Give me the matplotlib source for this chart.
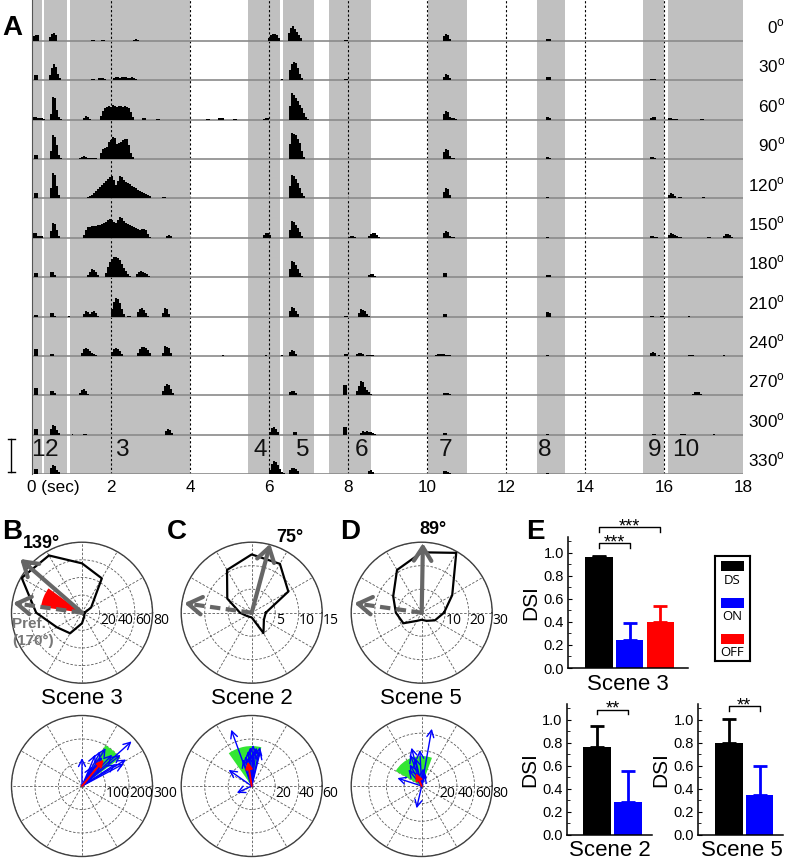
import numpy as np
import matplotlib
matplotlib.use("Agg")
import matplotlib.pyplot as plt
from matplotlib import font_manager
from matplotlib.patches import Rectangle
from matplotlib.transforms import blended_transform_factory

W, H = 787, 861
BIN = 0.05  # s, histogram bin

# ---------------- panel A data: PSTH segments per direction (start time, bin heights) ----------------
row_dirs = [0, 30, 60, 90, 120, 150, 180, 210, 240, 270, 300, 330]

psth_000 = [(0.03, [5, 6, 6]), (0.43, [4, 7, 8, 6]), (1.5, [1, 1]), (1.75, [1, 1]),
            (2.55, [1, 2, 1]), (5.98, [3, 6, 7, 7, 6, 3]), (6.48, [8, 13, 15, 12, 9, 6, 3]),
            (7.9, [1.5, 1.5]), (10.4, [5, 7, 6, 2]), (13.0, [2, 2, 2]), (17.5, [0.5, 0.5])]
psth_030 = [(0.05, [5, 5]), (0.43, [5, 12, 16, 13, 6, 2]), (1.5, [1, 1]), (1.68, [2, 2, 2, 1]),
            (2.05, [2, 3, 3, 2, 3, 3, 3, 2, 2, 3, 2, 1]), (6.3, [1]),
            (6.5, [10, 16, 18, 17, 12, 6, 2]), (7.9, [1.5, 1.5]), (10.4, [3, 6, 5, 2]),
            (13.0, [3.5, 3.5, 3]), (15.65, [1, 1, 1])]
psth_060 = [(0.03, [3, 3, 2, 2, 1.5, 1]), (0.45, [6, 23, 22, 10, 3, 1]), (1.3, [2, 4, 3, 1]),
            (1.72, [4, 9, 12, 13, 14, 13, 15, 14, 13, 14, 14, 13, 14, 13, 12, 8, 3]),
            (2.78, [2, 2]), (3.15, [1, 1]), (4.4, [1, 1]), (4.7, [1.5, 2, 1.5]), (5.1, [1, 1]),
            (5.85, [1, 2, 2]), (6.5, [14, 27, 25, 22, 19, 15, 12, 7, 3, 1]),
            (10.4, [6, 9, 8, 3, 1.5, 1.5, 1]), (13.0, [3, 3, 2]), (15.65, [2, 3, 3]),
            (16.1, [1.5, 1.5, 1, 1, 1]), (16.9, [0.5, 0.5])]
psth_090 = [(0.05, [4.5, 4.5]), (0.45, [8, 24, 22, 14, 4, 1]), (1.2, [1, 2, 3, 2, 1, 1, 1, 1, 1]),
            (1.72, [6, 10, 11, 12, 17, 19, 22, 21, 15, 16, 17, 19, 20, 20, 14, 6, 2]),
            (5.2, [0.5, 0.5]), (6.5, [15, 26, 25, 24, 20, 16, 8, 2]), (8.9, [0.5, 0.5]),
            (10.4, [7, 10, 9, 3, 1, 1]), (13.0, [2, 2, 1.5]), (15.65, [2, 2, 1]),
            (16.05, [0.5, 0.5]), (16.95, [0.5, 0.5])]
psth_120 = [(0.05, [5, 5]), (0.45, [10, 25, 23, 12, 3]), (0.9, [0.5]),
            (1.4, [1, 2, 3, 5, 7, 9, 11, 13, 15, 17, 19, 21, 22, 18, 13, 17, 22, 21, 18, 16,
                   15, 14, 12, 11, 10, 8, 7, 6, 5, 4, 3, 2]),
            (3.3, [1, 1]), (6.5, [12, 23, 22, 19, 15, 10, 5, 2]), (8.85, [0.5]),
            (10.4, [6, 10, 9, 3]), (11.5, [0.5, 0.5]), (13.0, [1, 1]), (16.1, [3, 5, 4, 2]),
            (16.35, [1, 1]), (16.95, [1, 1])]
psth_150 = [(0.03, [5, 5, 2, 1.5, 1.5]), (0.45, [7, 15, 14, 8, 2]),
            (1.3, [3, 8, 11, 11, 12, 12, 12, 13, 13, 14, 15, 16, 18, 19, 18, 16, 15, 18, 21, 20,
                   17, 15, 14, 13, 12, 11, 10, 9, 8, 9, 9, 8, 4, 1]),
            (3.4, [2, 2.5, 2]), (5.85, [3, 5, 5, 3]), (6.5, [8, 17, 16, 13, 10, 6, 2]),
            (8.0, [1, 2, 2, 1]), (8.5, [2, 4, 5, 5, 3, 1]), (10.4, [5, 7, 6, 2, 1, 1]),
            (13.0, [1, 1]), (15.65, [2, 2, 1, 1]), (16.1, [3, 4.5, 4, 3, 2, 1, 0.5]),
            (17.1, [1, 1]), (17.5, [2, 3.5, 4, 3, 1])]
psth_180 = [(0.05, [4, 4]), (0.45, [5, 5, 2]), (1.0, [0.5]), (1.2, [0.5]), (1.4, [2, 5, 8, 7, 5, 2]),
            (1.85, [4, 10, 15, 18, 20, 20, 19, 17, 13, 9, 6, 3, 1]),
            (2.63, [3, 5, 6, 5, 4, 3, 1]), (6.5, [8, 16, 15, 12, 8, 4, 1]), (8.5, [2, 3, 3, 1]),
            (10.4, [4.5, 4.5]), (13.0, [2, 2.5, 2]), (15.65, [0.5, 0.5, 0.5]), (17.1, [0.5, 0.5])]
psth_210 = [(0.05, [2, 2]), (0.45, [4, 4, 1]), (0.9, [0.5]), (1.3, [3, 6, 5, 3, 5, 6, 4, 1]),
            (2.0, [8, 15, 19, 18, 14, 8, 3]), (2.4, [1, 1]), (2.65, [5, 8, 9, 7, 4, 1]),
            (3.3, [4, 9, 8, 3]), (6.5, [6, 10, 9, 6, 3]), (7.9, [1, 1]),
            (8.25, [4, 8, 7, 6, 3, 1]), (10.4, [2.5, 2.5]), (13.0, [5, 5, 4]),
            (15.65, [0.5, 0.5]), (15.9, [0.5, 0.5]), (16.6, [0.5])]
psth_240 = [(0.05, [6.5, 6.5]), (0.45, [2, 2]), (1.25, [3, 7, 8, 7, 5, 3, 2, 1]),
            (2.0, [4, 7, 8, 7, 5, 2]), (2.65, [3, 7, 9, 9, 8, 6, 3]), (3.3, [3, 10, 9, 8, 3]),
            (4.8, [0.5]), (5.9, [0.5]), (6.3, [0.5]), (6.5, [4, 6, 5, 2]), (7.9, [1.5, 1.5]),
            (8.2, [2, 3, 3, 2]), (8.45, [1, 1, 1, 1]), (10.2, [1, 1.5, 1.5, 1.5, 1.5, 1, 1, 1]),
            (13.0, [0.5, 0.5]), (15.65, [3, 3.5, 3]), (15.85, [0.5]), (16.6, [0.5, 0.5, 0.5]),
            (17.5, [0.5])]
psth_270 = [(0.05, [7, 7]), (0.45, [4, 4, 2]), (1.2, [2, 5, 6, 4, 1]), (2.1, [0.5, 0.5]),
            (3.3, [4, 9, 11, 10, 6, 2]), (5.9, [0.5]), (6.5, [3, 4, 4, 2]), (7.88, [10, 10]),
            (8.2, [4, 9, 14, 13, 8, 5, 3, 1]), (10.4, [2, 2, 2, 1]), (15.7, [0.5, 0.5]),
            (16.7, [1, 3, 3.5, 3, 1])]
psth_300 = [(0.05, [6, 6]), (0.45, [6, 10, 9, 5, 2]), (1.0, [0.5]), (1.3, [0.5, 0.5]),
            (3.37, [4, 6, 5, 2]), (6.0, [3, 7, 8, 6, 3]), (6.6, [3, 3]), (7.88, [8, 8]),
            (8.3, [2, 4, 3, 4, 3, 3, 2, 1]), (10.4, [2, 2]), (13.0, [0.5, 0.5]),
            (15.7, [0.5, 0.5]), (16.4, [0.5, 0.5, 0.5]), (17.25, [0.5])]
psth_330 = [(0.05, [5, 5]), (0.45, [6, 9, 8, 4, 2]), (1.3, [0.5]), (2.5, [0.5]), (3.3, [0.5]),
            (6.0, [4, 10, 13, 12, 9, 5, 2, 1]), (6.5, [4, 6, 6, 5, 3]), (7.9, [0.5, 0.5]),
            (8.5, [3, 4, 2]), (10.4, [3, 3, 2, 1]), (13.0, [1.5, 1.5]), (15.7, [0.5, 0.5]),
            (16.5, [0.5, 0.5, 0.5]), (17.25, [0.5])]
psth_rows = [psth_000, psth_030, psth_060, psth_090, psth_120, psth_150,
             psth_180, psth_210, psth_240, psth_270, psth_300, psth_330]

scene_spans = [(0.0, 0.26), (0.3, 0.88), (0.96, 4.0), (5.48, 6.28), (6.35, 7.15), (7.52, 8.58),
               (10.03, 11.02), (12.79, 13.49), (15.48, 16.0), (16.11, 18.0)]
scene_names = ["1", "2", "3", "4", "5", "6", "7", "8", "9", "10"]
scene_name_t = [0.14, 0.5, 2.28, 5.77, 6.84, 8.35, 10.48, 12.99, 15.77, 16.56]
dashed_times = [2, 4, 6, 8, 10, 12, 14, 16]
time_ticks = [0, 2, 4, 6, 8, 10, 12, 14, 16, 18]
scale_bar = 33

# ---------------- panels B-D data ----------------
dirs = np.arange(0, 360, 30)
resp_b = [3, 12, 45, 56, 75, 79, 52, 33, 27, 12, 5, 3]
resp_c = [3, 9, 12, 12.4, 10.5, 6, 2.5, 1.3, 1, 1, 5, 3]
resp_d = [9.5, 15, 29.4, 25.7, 21, 14, 11, 9, 4, 3, 4, 6.5]
pref_b, pref_c, pref_d = 139, 75, 89
cell_pref = 172
off_wedge_b = (144, 172, 47)

green_b = (36, 60, 200)
green_c = (76, 125, 34)
green_d = (70, 150, 34)
mean_b = (50.5, 145)
mean_c = (99, 21)
mean_d = (115, 16)
vec_b = [(90, 119), (42, 284), (31, 219), (28, 200), (33, 169), (62, 167), (67, 145),
         (58, 190), (46, 185), (39, 211), (63, 94), (50, 120), (55, 150)]
vec_c = [(110, 51), (145, 24), (205, 14), (88, 35), (83, 33), (78, 34), (92, 33), (96, 30),
         (102, 26), (108, 24), (76, 31), (86, 30), (95, 26)]
vec_d = [(80, 66), (105, 45), (162, 29), (257, 26), (119, 28), (103, 33), (85, 20),
         (129, 24), (93, 41), (72, 14), (110, 38)]

# ---------------- panel E data ----------------
e_labels = ["DS", "ON", "OFF"]
e_colors = ["black", "#0000ff", "#ff0000"]
dsi_s3 = [0.96, 0.24, 0.40]
err_s3 = [0.015, 0.15, 0.138]
dsi_s2 = [0.76, 0.29]
err_s2 = [0.19, 0.265]
dsi_s5 = [0.80, 0.345]
err_s5 = [0.21, 0.255]


def has_font(name):
    try:
        font_manager.findfont(name, fallback_to_default=False)
        return True
    except ValueError:
        return False


if has_font("Liberation Sans Narrow"):
    NARROW, nf = "Liberation Sans Narrow", 1.0
else:
    NARROW, nf = "Liberation Sans", 0.88

plt.rcParams["font.family"] = ["Liberation Sans", "DejaVu Sans"]
plt.rcParams["mathtext.fontset"] = "custom"
plt.rcParams["mathtext.rm"] = NARROW


def fx(x):
    return x / W


def fy(y):
    return 1 - y / H


fig = plt.figure(figsize=(W / 100, H / 100), dpi=100)

# ================= panel A =================
row_gap = 39.36
axA = fig.add_axes([fx(32), fy(474), 711 / W, 474 / H])
axA.set_xlim(0, 18)
axA.set_ylim(0, 474)
for a, b in scene_spans:
    axA.axvspan(a, b, color="#c0c0c0", lw=0, zorder=0)
for t in dashed_times:
    axA.axvline(t, color="k", lw=0.8, ls=(0, (2, 2)), zorder=1)
blend = blended_transform_factory(axA.transAxes, axA.transData)
for i, segs in enumerate(psth_rows):
    base = (11 - i) * row_gap
    axA.axhline(base, color="#8a8a8a", lw=1.2, zorder=2)
    for t0, hs in segs:
        edges = t0 + BIN * np.arange(len(hs) + 1)
        axA.stairs(base + np.array(hs), edges, baseline=base, fill=True, color="k",
                   lw=0.4, zorder=3)
    axA.text(1.0 + 42 / 711, base + 14, f"{row_dirs[i]}$^{{\\rm o}}$", transform=blend,
             ha="right", va="center", fontsize=14 * nf, family=NARROW)

for name, t in zip(scene_names, scene_name_t):
    axA.text(t, 24, name, ha="center", va="center", fontsize=20 * nf, family=NARROW,
             color="#111111", zorder=4)

axA.set_xticks(time_ticks[1:])
axA.set_xticklabels([str(t) for t in time_ticks[1:]], family=NARROW, fontsize=14 * nf)
axA.text(-0.12, -0.012, "0 (sec)", transform=blended_transform_factory(axA.transData, axA.transAxes),
         ha="left", va="top", family=NARROW, fontsize=14 * nf)
axA.tick_params(axis="x", length=0, pad=4)
axA.set_yticks([])
for s in ["top", "right", "bottom"]:
    axA.spines[s].set_visible(False)
axA.spines["left"].set_color("#555555")

# scale bar
sx = -0.52
axA.plot([sx, sx], [2, 2 + scale_bar], color="k", lw=1, clip_on=False)
axA.plot([sx - 0.09, sx + 0.09], [2, 2], color="k", lw=1, clip_on=False)
axA.plot([sx - 0.09, sx + 0.09], [2 + scale_bar, 2 + scale_bar], color="k", lw=1, clip_on=False)

fig.text(fx(12), fy(28), "A", fontsize=20, weight="bold", ha="center", va="center")


# ================= panels B-D =================
def polar_panel(cx, cy, rmax, rticks, r=70.5):
    ax = fig.add_axes([fx(cx - r), fy(cy + r), 2 * r / W, 2 * r / H], projection="polar")
    ax.set_ylim(0, rmax)
    ax.set_yticks(rticks)
    ax.set_yticklabels([])
    ax.set_xticks(np.deg2rad(np.arange(0, 360, 30)))
    ax.set_xticklabels([])
    ax.grid(True, color="0.35", lw=0.6, ls=(0, (3, 2)))
    ax.spines["polar"].set_color("0.25")
    ax.spines["polar"].set_linewidth(1)
    for v in rticks:
        ax.annotate(str(v), xy=(0, v), xytext=(0.3, -5.5), textcoords="offset points",
                    ha="left", va="center", fontsize=10, annotation_clip=False, zorder=6,
                    family="Open Sans")
    return ax


def big_arrow(ax, deg, r, dashed=False):
    th = np.deg2rad(deg)
    style = "->,head_length=0.55,head_width=0.35"
    if dashed:
        ax.plot([th, th], [0, r * 0.9], color="0.4", lw=3, ls=(0, (2.5, 1.3)), zorder=5)
        ax.annotate("", xy=(th, r), xytext=(th, r * 0.9),
                    arrowprops=dict(arrowstyle=style, color="0.4", lw=3, mutation_scale=18,
                                    shrinkA=0, shrinkB=0), annotation_clip=False, zorder=5)
    else:
        ax.annotate("", xy=(th, r), xytext=(0, 0),
                    arrowprops=dict(arrowstyle=style, color="0.4", lw=3, mutation_scale=18,
                                    shrinkA=0, shrinkB=0), annotation_clip=False, zorder=5)


def tuning(ax, resp):
    th = np.deg2rad(np.append(dirs, dirs[0]))
    ax.plot(th, np.append(resp, resp[0]), color="k", lw=1.6, zorder=4)


def vectors(ax, vecs, green, mean):
    a0, a1, rg = green
    ax.bar(np.deg2rad((a0 + a1) / 2), rg, width=np.deg2rad(a1 - a0), bottom=0,
           color="#33e633", lw=0, zorder=2)
    for deg, r in vecs:
        ax.annotate("", xy=(np.deg2rad(deg), r), xytext=(0, 0),
                    arrowprops=dict(arrowstyle="->,head_length=0.5,head_width=0.25", color="#0000ff",
                                    lw=1, mutation_scale=10, shrinkA=0, shrinkB=0),
                    annotation_clip=False, zorder=3)
    ax.annotate("", xy=(np.deg2rad(mean[0]), mean[1]), xytext=(0, 0),
                arrowprops=dict(arrowstyle="-|>,head_length=0.5,head_width=0.25", color="#ff0000",
                                lw=1.4, mutation_scale=8, shrinkA=0, shrinkB=0),
                annotation_clip=False, zorder=4)


# B
axB = polar_panel(82, 612.7, 80, [20, 40, 60, 80])
a0, a1, rw = off_wedge_b
axB.bar(np.deg2rad((a0 + a1) / 2), rw, width=np.deg2rad(a1 - a0), bottom=0, color="#ff0000",
        lw=0, zorder=2)
tuning(axB, resp_b)
big_arrow(axB, pref_b, 93)
big_arrow(axB, cell_pref, 79, dashed=True)
fig.text(fx(12), fy(617), "Pref.\n(170°)", color="#777777", weight="bold", fontsize=11,
         ha="left", va="top", linespacing=1.25)

# C
axC = polar_panel(251.7, 612.7, 15, [5, 10, 15])
tuning(axC, resp_c)
big_arrow(axC, pref_c, 15.2)
big_arrow(axC, cell_pref, 14.5, dashed=True)

# D
axD = polar_panel(421.7, 612.7, 30, [10, 20, 30])
tuning(axD, resp_d)
big_arrow(axD, pref_d, 29.6)
big_arrow(axD, cell_pref, 29, dashed=True)

fig.text(fx(41), fy(544), f"{pref_b}°", weight="bold", fontsize=13, ha="center", va="center")
fig.text(fx(290), fy(537), f"{pref_c}°", weight="bold", fontsize=13, ha="center", va="center")
fig.text(fx(433), fy(530), f"{pref_d}°", weight="bold", fontsize=13, ha="center", va="center")

for x, name in [(82, "Scene 3"), (252, "Scene 2"), (421, "Scene 5")]:
    fig.text(fx(x), fy(698), name, fontsize=16, ha="center", va="center")

axB2 = polar_panel(82, 786, 300, [100, 200, 300])
vectors(axB2, vec_b, green_b, mean_b)
axC2 = polar_panel(251.7, 786, 60, [20, 40, 60])
vectors(axC2, vec_c, green_c, mean_c)
axD2 = polar_panel(421.7, 786, 80, [20, 40, 60, 80])
vectors(axD2, vec_d, green_d, mean_d)

for x, letter in [(12, "B"), (177, "C"), (350, "D"), (535, "E")]:
    fig.text(fx(x), fy(532), letter, fontsize=20, weight="bold", ha="center", va="center")


# ================= panel E =================
def dsi_panel(left, right, y0, xlim, vals, errs, brackets):
    top = y0 - 1.14 * 115.2
    ax = fig.add_axes([fx(left), fy(y0), (right - left) / W, (y0 - top) / H])
    xs = np.arange(len(vals))
    ax.bar(xs, vals, width=0.9, color=e_colors[:len(vals)], lw=0, zorder=2)
    for x, v, e, c in zip(xs, vals, errs, e_colors):
        ax.errorbar(x, v, yerr=[[0], [e]], fmt="none", ecolor=c, elinewidth=2, capsize=5,
                    capthick=2, zorder=1)
    ax.set_xlim(*xlim)
    ax.set_ylim(0, 1.14)
    ax.set_xticks([])
    ax.set_yticks(np.arange(0, 1.01, 0.2))
    ax.set_yticks(np.arange(0.1, 1.15, 0.2), minor=True)
    ax.set_yticklabels([f"{v:.1f}" for v in np.arange(0, 1.01, 0.2)])
    ax.tick_params(axis="y", which="major", direction="in", length=3, labelsize=10.5, pad=3)
    ax.tick_params(axis="y", which="minor", direction="in", length=2)
    for s in ["top", "right"]:
        ax.spines[s].set_visible(False)
    for s in ["left", "bottom"]:
        ax.spines[s].set_linewidth(1.1)
    ax.set_ylabel("DSI", fontsize=15, labelpad=2)
    for x0, x1, yb, txt in brackets:
        ax.plot([x0, x0, x1, x1], [yb - 0.04, yb, yb, yb - 0.04], color="k", lw=1, clip_on=False)
        ax.text((x0 + x1) / 2, yb - 0.035, txt, ha="center", va="baseline", fontsize=13,
                clip_on=False)
    return ax


dsi_panel(568, 688, 668, (-1.007, 2.9), dsi_s3, err_s3,
          [(0, 1, 1.085, "***"), (0, 2, 1.223, "***")])
fig.text(fx(628), fy(684), "Scene 3", fontsize=16, ha="center", va="center")
dsi_panel(566.7, 652, 835, (-0.977, 1.774), dsi_s2, err_s2, [(0, 1, 1.087, "**")])
fig.text(fx(610), fy(851), "Scene 2", fontsize=16, ha="center", va="center")
dsi_panel(698, 783, 835, (-1.016, 1.77), dsi_s5, err_s5, [(0, 1, 1.12, "**")])
fig.text(fx(742), fy(851), "Scene 5", fontsize=16, ha="center", va="center")

# legend box
axL = fig.add_axes([fx(715), fy(661), 35 / W, 105 / H])
axL.set_xlim(0, 35)
axL.set_ylim(105, 0)
axL.set_xticks([])
axL.set_yticks([])
for s in axL.spines.values():
    s.set_linewidth(1.5)
for k, (lab, col) in enumerate(zip(e_labels, e_colors)):
    y = 5 + k * 36.5
    axL.add_patch(Rectangle((6, y), 23, 10, color=col, lw=0))
    axL.text(17.5, y + 19, lab, ha="center", va="center", fontsize=9.5, family="Open Sans")

fig.savefig("out.png", dpi=100)
